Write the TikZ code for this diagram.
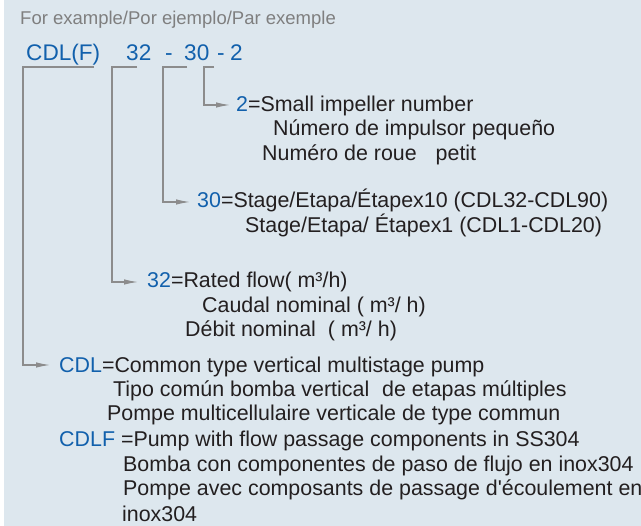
\documentclass[tikz,border=0pt]{standalone}
\usepackage{fontspec}
\setmainfont{Liberation Sans}
\usetikzlibrary{arrows.meta}
\definecolor{bgc}{HTML}{DDE7EE}
\definecolor{blu}{HTML}{1160AC}
\definecolor{txt}{HTML}{231F20}
\definecolor{lin}{HTML}{8C8C8C}
\definecolor{hdr}{HTML}{7F7F7F}
\begin{document}
\begin{tikzpicture}[x=1pt,y=-1pt,
  tl/.style={anchor=base west, inner sep=0pt, text=txt, font=\fontsize{21.4}{25}\selectfont},
  ttl/.style={anchor=base west, inner sep=0pt, text=blu, font=\fontsize{22.6}{26}\selectfont},
  hd/.style={anchor=base west, inner sep=0pt, text=hdr, font=\fontsize{18.5}{22}\selectfont},
  conn/.style={draw=lin, line width=1.2pt, -{Latex[length=14pt,width=5.5pt]}}]
\useasboundingbox (0,0) rectangle (641,526);
\fill[bgc] (4,0) rectangle (641,526);
% header and code
\node[hd] (hdr) at (20,25) {For example/Por ejemplo/Par exemple};
\node[ttl] (t1) at (26,61) {CDL(F)};
\node[ttl] (t2) at (126,61) {32};
\node[ttl] (t3) at (165,61) {-};
\node[ttl] (t4) at (184,61) {30};
\node[ttl] (t5) at (217,61) {-};
\node[ttl] (t6) at (230,61) {2};
% 2 block
\node[tl] (a1) at (236,112) {\textcolor{blu}{2}=Small impeller number};
\node[tl] (a2) at (273,136) {Número de impulsor pequeño};
\node[tl] (a3) at (262,161) {Numéro de roue\hspace{13pt} petit};
% 30 block
\node[tl] (b1) at (197,208) {\textcolor{blu}{30}=Stage/Etapa/Étapex10 (CDL32-CDL90)};
\node[tl] (b2) at (245,233) {Stage/Etapa/ Étapex1 (CDL1-CDL20)};
% 32 block
\node[tl] (c1) at (147,288) {\textcolor{blu}{32}=Rated flow( m³/h)};
\node[tl] (c2) at (202,313) {Caudal nominal ( m³/ h)};
\node[tl] (c3) at (185,337) {Débit nominal\hspace{6pt} ( m³/ h)};
% CDL block
\node[tl] (d1) at (59,373) {\textcolor{blu}{CDL}=Common type vertical multistage pump};
\node[tl] (d2) at (113,397) {Tipo común bomba vertical\hspace{7pt} de etapas múltiples};
\node[tl] (d3) at (107,421) {Pompe multicellulaire verticale de type commun};
\node[tl] (d4) at (59,447) {\textcolor{blu}{CDLF} =Pump with flow passage components in SS304};
\node[tl] (d5) at (123,472) {Bomba con componentes de paso de flujo en inox304};
\node[tl] (d6) at (123,496) {Pompe avec composants de passage d\textquotesingle écoulement en};
\node[tl] (d7) at (122,522) {inox304};
% brackets
\coordinate (p1a) at (94,67);  \coordinate (p1b) at (23,67);
\coordinate (p1c) at (23,365); \coordinate (p1d) at (50,365);
\coordinate (p2a) at (137,67); \coordinate (p2b) at (112,67);
\coordinate (p2c) at (112,282); \coordinate (p2d) at (138,282);
\coordinate (p3a) at (187,67); \coordinate (p3b) at (163,67);
\coordinate (p3c) at (163,202); \coordinate (p3d) at (190,202);
\coordinate (p4a) at (214,67); \coordinate (p4b) at (204,67);
\coordinate (p4c) at (204,105); \coordinate (p4d) at (230,105);
\draw[conn] (p1a) -- (p1b) -- (p1c) -- (p1d);
\draw[conn] (p2a) -- (p2b) -- (p2c) -- (p2d);
\draw[conn] (p3a) -- (p3b) -- (p3c) -- (p3d);
\draw[conn] (p4a) -- (p4b) -- (p4c) -- (p4d);
\end{tikzpicture}
\end{document}
